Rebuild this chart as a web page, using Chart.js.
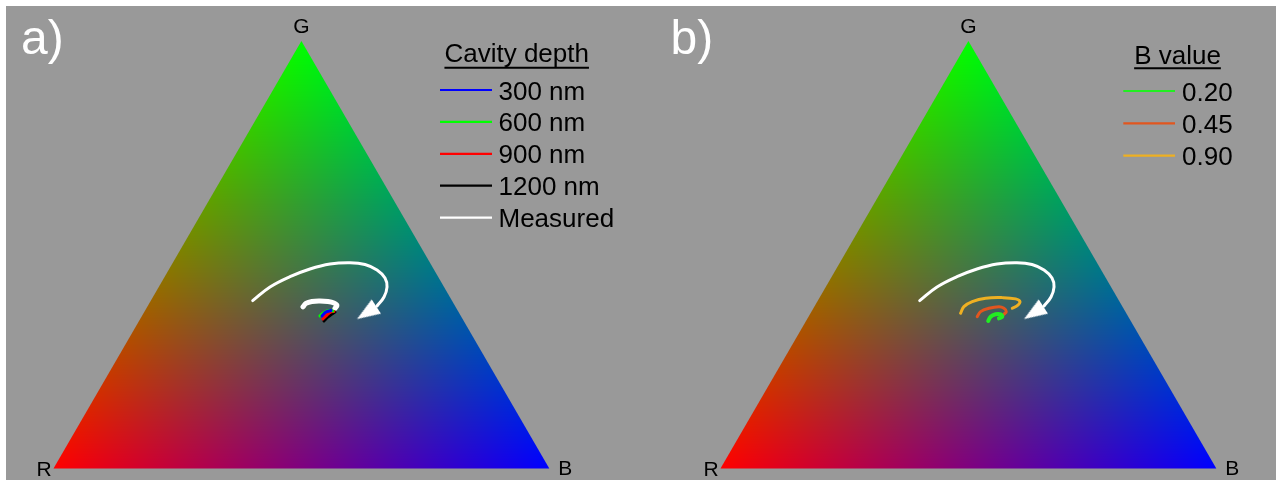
<!DOCTYPE html>
<html>
<head>
<meta charset="utf-8">
<script src="https://cdn.jsdelivr.net/npm/chart.js@4.4.1/dist/chart.umd.min.js"></script>
<style>
  html, body { margin: 0; padding: 0; background: #fff; }
  #bg { position: absolute; left: 6px; top: 6px; width: 1270px; height: 474px; background: #999999; }
  .panel { position: absolute; top: 0; height: 480px; }
</style>
</head>
<body>
<div id="bg"></div>
<div class="panel" style="left:0;width:668px"><canvas id="chartA" width="668" height="480"></canvas></div>
<div class="panel" style="left:667px;width:609px"><canvas id="chartB" width="609" height="480"></canvas></div>
<script>
// triangle corners (x, y) in plot units
const cornerNames = ['R', 'G', 'B'];
const cornerX = [0, 0.5, 1];
const cornerY = [0, Math.sqrt(3) / 2, 0];

// guide arrow (same in both panels)
const arrowX = [0.4018, 0.4367, 0.4770, 0.5173, 0.5577, 0.5980, 0.6283, 0.6525, 0.6686, 0.6727, 0.6666, 0.6525];
const arrowY = [0.3400, 0.3677, 0.3886, 0.4042, 0.4143, 0.4169, 0.4133, 0.4021, 0.3859, 0.3677, 0.3475, 0.3292];
const arrowHeadX = [0.6325];
const arrowHeadY = [0.3160];

// panel a) cavity depth
const depthLabels = ['300 nm', '600 nm', '900 nm', '1200 nm'];
const depthColors = ['#0000ff', '#00ff00', '#ff0000', '#000000'];
const depthX = [
    [0.5414, 0.5495, 0.5596],
    [0.5374, 0.5455, 0.5556, 0.5636],
    [0.5434, 0.5515, 0.5596, 0.5657],
    [0.5455, 0.5535, 0.5616, 0.5677]
];
const depthY = [
    [0.3090, 0.3171, 0.3202],
    [0.3090, 0.3161, 0.3202, 0.3192],
    [0.3029, 0.3110, 0.3171, 0.3182],
    [0.2988, 0.3070, 0.3131, 0.3171]
];
const measuredX = [0.5030, 0.5091, 0.5212, 0.5374, 0.5535, 0.5657, 0.5717, 0.5677];
const measuredY = [0.3273, 0.3344, 0.3385, 0.3395, 0.3385, 0.3354, 0.3304, 0.3243];

// panel b) B value
const bLabels = ['0.20', '0.45', '0.90'];
const bColors = ['#22ee22', '#e2561e', '#eeb022'];
const bX = [
    [0.5400, 0.5448, 0.5549, 0.5651, 0.5683, 0.5616],
    [0.5178, 0.5246, 0.5414, 0.5616, 0.5717, 0.5764, 0.5717],
    [0.4842, 0.4909, 0.5077, 0.5347, 0.5683, 0.5954, 0.6040, 0.5986, 0.5885]
];
const bY = [
    [0.2988, 0.3076, 0.3125, 0.3125, 0.3076, 0.3043],
    [0.3076, 0.3178, 0.3247, 0.3279, 0.3247, 0.3178, 0.3125],
    [0.3145, 0.3279, 0.3381, 0.3450, 0.3462, 0.3436, 0.3381, 0.3299, 0.3247]
];

const FONT = '"Liberation Sans", Arial, sans-serif';
const pts = (xs, ys) => xs.map((x, i) => ({ x: x, y: ys[i] }));

// narrow arrow head used as point style
function makeArrowHead() {
    const c = document.createElement('canvas');
    c.width = 26; c.height = 26;
    const g = c.getContext('2d');
    g.fillStyle = '#ffffff';
    g.beginPath();
    g.moveTo(13, 1);
    g.lineTo(21.5, 24);
    g.lineTo(4.5, 24);
    g.closePath();
    g.fill();
    return c;
}
const arrowHeadImg = makeArrowHead();

function arrowDatasets() {
    return [
        { label: '', data: pts(arrowX, arrowY), borderColor: '#ffffff', borderWidth: 3, showLine: true, tension: 0.4, pointRadius: 0 },
        { label: '', data: pts(arrowHeadX, arrowHeadY), showLine: false, pointStyle: arrowHeadImg, pointRotation: 237, pointRadius: 13 }
    ];
}

// ternary colour triangle + corner letters, panel letter and legend
const trianglePlugin = {
    id: 'ternary',
    beforeDatasetsDraw(chart) {
        const { ctx, scales } = chart;
        const P = cornerX.map((x, i) => [scales.x.getPixelForValue(x), scales.y.getPixelForValue(cornerY[i])]);
        const [R, G, B] = P;
        const w = chart.width, h = chart.height;
        const off = document.createElement('canvas');
        off.width = w; off.height = h;
        const octx = off.getContext('2d');
        const img = octx.createImageData(w, h);
        const det = (G[1] - B[1]) * (R[0] - B[0]) + (B[0] - G[0]) * (R[1] - B[1]);
        const j0 = Math.max(0, Math.floor(G[1]) - 1), j1 = Math.min(h - 1, Math.ceil(R[1]) + 1);
        const i0 = Math.max(0, Math.floor(R[0]) - 1), i1 = Math.min(w - 1, Math.ceil(B[0]) + 1);
        for (let j = j0; j <= j1; j++) {
            for (let i = i0; i <= i1; i++) {
                const cx = i + 0.5, cy = j + 0.5;
                let lr = ((G[1] - B[1]) * (cx - B[0]) + (B[0] - G[0]) * (cy - B[1])) / det;
                let lg = ((B[1] - R[1]) * (cx - B[0]) + (R[0] - B[0]) * (cy - B[1])) / det;
                let lb = 1 - lr - lg;
                lr = Math.min(1, Math.max(0, lr));
                lg = Math.min(1, Math.max(0, lg));
                lb = Math.min(1, Math.max(0, lb));
                const k = (j * w + i) * 4;
                img.data[k] = lr * 255;
                img.data[k + 1] = lg * 255;
                img.data[k + 2] = lb * 255;
                img.data[k + 3] = 255;
            }
        }
        octx.putImageData(img, 0, 0);
        ctx.save();
        ctx.beginPath();
        ctx.moveTo(R[0], R[1]);
        ctx.lineTo(G[0], G[1]);
        ctx.lineTo(B[0], B[1]);
        ctx.closePath();
        ctx.clip();
        ctx.drawImage(off, 0, 0);
        ctx.restore();

        // corner letters
        ctx.save();
        ctx.fillStyle = '#000';
        ctx.font = '21px ' + FONT;
        ctx.textAlign = 'center';
        ctx.textBaseline = 'alphabetic';
        ctx.fillText(cornerNames[1], G[0], G[1] - 8);
        ctx.fillText(cornerNames[0], R[0] - 9.5, R[1] + 8);
        ctx.fillText(cornerNames[2], B[0] + 16, B[1] + 7);
        ctx.restore();
    },
    afterDraw(chart, args, opts) {
        const ctx = chart.ctx;
        ctx.save();
        // panel letter
        ctx.fillStyle = '#ffffff';
        ctx.font = '48px ' + FONT;
        ctx.textAlign = 'left';
        ctx.fillText(opts.panel, opts.panelX, 53.5);

        // legend
        const L = opts.legend;
        ctx.fillStyle = '#000';
        ctx.font = '26px ' + FONT;
        ctx.textAlign = 'center';
        ctx.fillText(L.title, L.titleX, L.titleY);
        const tw = ctx.measureText(L.title).width;
        ctx.strokeStyle = '#000';
        ctx.lineWidth = 2;
        ctx.beginPath();
        ctx.moveTo(L.titleX - tw / 2, L.underY);
        ctx.lineTo(L.titleX + tw / 2, L.underY);
        ctx.stroke();
        ctx.textAlign = 'left';
        const items = chart.data.datasets.filter(d => d.label);
        items.forEach((d, i) => {
            const y = L.rowY + i * L.rowStep;
            ctx.strokeStyle = d.borderColor;
            ctx.lineWidth = 2.2;
            ctx.beginPath();
            ctx.moveTo(L.lineX0, y);
            ctx.lineTo(L.lineX1, y);
            ctx.stroke();
            ctx.fillStyle = '#000';
            ctx.fillText(d.label, L.textX, y + 9.5);
        });
        ctx.restore();
    }
};

function makeChart(id, datasets, xMax, pluginOpts) {
    return new Chart(document.getElementById(id), {
        type: 'scatter',
        data: { datasets: datasets },
        options: {
            responsive: false,
            animation: false,
            events: [],
            layout: { padding: 0, autoPadding: false },
            scales: {
                x: { type: 'linear', display: false, min: -0.1079, max: xMax },
                y: { type: 'linear', display: false, min: -0.0233, max: 0.9492 }
            },
            elements: { line: { borderCapStyle: 'round', borderJoinStyle: 'round' } },
            plugins: {
                legend: { display: false },
                tooltip: { enabled: false },
                ternary: pluginOpts
            }
        },
        plugins: [trianglePlugin]
    });
}

// panel a
const dsA = depthLabels.map((lab, i) => ({
    label: lab,
    data: pts(depthX[i], depthY[i]),
    borderColor: depthColors[i],
    borderWidth: 3,
    showLine: true,
    tension: 0.4,
    pointRadius: 0
}));
dsA.push({ label: 'Measured', data: pts(measuredX, measuredY), borderColor: '#ffffff', borderWidth: 5, showLine: true, tension: 0.4, pointRadius: 0 });
makeChart('chartA', dsA.concat(arrowDatasets()), 1.2394, {
    panel: 'a)', panelX: 21,
    legend: { title: 'Cavity depth', titleX: 516.7, titleY: 62.3, underY: 67.7, lineX0: 440, lineX1: 492, textX: 498.5, rowY: 90, rowStep: 31.9 }
});

// panel b
const dsB = bLabels.map((lab, i) => ({
    label: lab,
    data: pts(bX[i], bY[i]),
    borderColor: bColors[i],
    borderWidth: i === 0 ? 4 : 3,
    showLine: true,
    tension: 0.4,
    pointRadius: 0
}));
makeChart('chartB', dsB.concat(arrowDatasets()), 1.1204, {
    panel: 'b)', panelX: 3.5,
    legend: { title: 'B value', titleX: 510.5, titleY: 64, underY: 68.3, lineX0: 456.3, lineX1: 508, textX: 515, rowY: 91, rowStep: 32.3 }
});
</script>
</body>
</html>
